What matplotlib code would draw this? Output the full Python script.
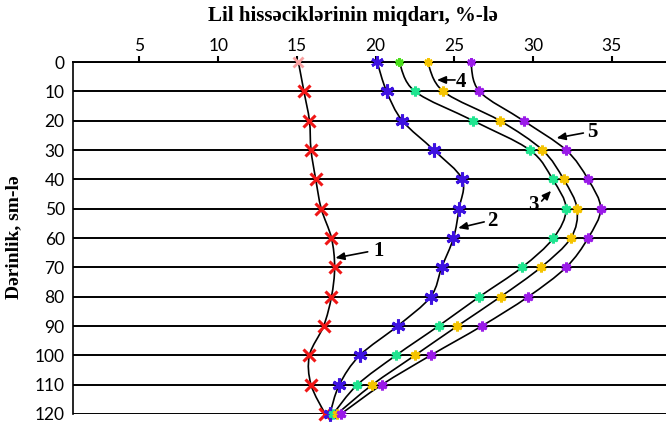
import numpy as np
import matplotlib
matplotlib.use("Agg")
import matplotlib.pyplot as plt
from matplotlib.path import Path
from matplotlib.patches import PathPatch

# depth, cm
depth = [0, 10, 20, 30, 40, 50, 60, 70, 80, 90, 100, 110, 120]

# clay particle content, % (curves 1..5)
clay_1 = [15.1, 15.45, 15.8, 15.9, 16.2, 16.55, 17.2, 17.4, 17.2, 16.7, 15.8, 15.9, 16.8]
clay_2 = [20.1, 20.7, 21.7, 23.7, 25.5, 25.3, 24.95, 24.2, 23.5, 21.4, 19.0, 17.7, 17.1]
clay_3 = [21.5, 22.5, 26.2, 29.8, 31.25, 32.1, 31.3, 29.3, 26.6, 24.0, 21.3, 18.85, 17.3]
clay_4 = [23.3, 24.3, 27.9, 30.6, 31.95, 32.8, 32.4, 30.5, 27.95, 25.2, 22.5, 19.8, 17.55]
clay_5 = [26.05, 26.6, 29.4, 32.1, 33.5, 34.3, 33.5, 32.1, 29.7, 26.75, 23.5, 20.4, 17.8]

series = [clay_1, clay_2, clay_3, clay_4, clay_5]
colors = ["#f01616", "#3d12e0", "#1fe590", "#f5c400", "#9a1be8"]
top_colors = ["#f7a0a0", "#3d12e0", "#4ade1a", "#f5c400", "#9a1be8"]
markers = ["x", (6, 2, 0), (6, 2, 0), (6, 2, 0), (6, 2, 0)]
msizes = [8, 10, 7, 7, 7]

# curve labels: label, text position, arrow start, arrow tip
labels = ["1", "2", "3", "4", "5"]
text_pos = [(20.2, 64.4), (27.4, 54.2), (30.0, 48.6), (25.45, 6.8), (33.75, 23.9)]
arrow_from = [(19.5, 64.7), (26.9, 54.5), (30.55, 47.4), (25.05, 6.1), (33.2, 24.2)]
arrow_to = [(17.45, 66.8), (25.25, 56.6), (31.15, 43.9), (23.9, 6.1), (31.5, 25.9)]

yticks = list(range(0, 121, 10))
xticks = [5, 10, 15, 20, 25, 30, 35]


def smooth_path(xs, ys):
    # catmull-rom through the points, drawn as cubic bezier segments
    pts = np.column_stack([xs, ys]).astype(float)
    ext = np.vstack([pts[0], pts, pts[-1]])
    verts = [pts[0]]
    codes = [Path.MOVETO]
    for i in range(1, len(ext) - 2):
        p0, p1, p2, p3 = ext[i - 1], ext[i], ext[i + 1], ext[i + 2]
        verts += [p1 + (p2 - p0) / 6, p2 - (p3 - p1) / 6, p2]
        codes += [Path.CURVE4] * 3
    return Path(verts, codes)


fig = plt.figure(figsize=(6.66, 4.24), dpi=100)
ax = fig.add_axes([0.1096, 0.0236, 0.8904, 0.830])

for yv in yticks:
    ax.axhline(yv, color="black", lw=1.4, zorder=1)

for vals, c, tc, m, ms in zip(series, colors, top_colors, markers, msizes):
    ax.add_patch(PathPatch(smooth_path(vals, depth), fill=False, edgecolor="black",
                           lw=1.2, zorder=2))
    ax.plot(vals[1:], depth[1:], linestyle="none", marker=m, markersize=ms, color=c,
            markeredgewidth=2.2, zorder=3, clip_on=False)
    ax.plot(vals[:1], depth[:1], linestyle="none", marker=m, markersize=ms - 1, color=tc,
            markeredgewidth=2.0, zorder=3, clip_on=False)

for lab, tp, a0, a1 in zip(labels, text_pos, arrow_from, arrow_to):
    ax.text(tp[0], tp[1], lab, fontsize=15, fontweight="bold", family="Liberation Serif",
            ha="center", va="center")
    ax.annotate("", xy=a1, xytext=a0,
                arrowprops=dict(arrowstyle="-|>,head_length=0.35,head_width=0.15",
                                color="black", lw=1.2, shrinkA=0, shrinkB=0,
                                mutation_scale=15))

ax.set_xlim(0.78, 38.45)
ax.set_ylim(120, 0)

ax.xaxis.tick_top()
ax.set_xticks(xticks)
ax.set_yticks(yticks)
ax.tick_params(axis="x", length=4, width=1.5, pad=2, labelsize=12.5)
ax.tick_params(axis="y", length=0, pad=6, labelsize=12.5)
for t in ax.get_xticklabels() + ax.get_yticklabels():
    t.set_family("Lato")

for side in ["right", "bottom"]:
    ax.spines[side].set_visible(False)
ax.spines["left"].set_linewidth(1.2)
ax.spines["top"].set_linewidth(1.4)

fig.text(0.53, 0.962, "Lil hissəciklərinin miqdarı, %-lə", ha="center", va="center",
         fontsize=15, fontweight="bold", family="Liberation Serif")
fig.text(0.021, 0.44, "Dərinlik, sm-lə", ha="center", va="center", rotation=90,
         fontsize=14, fontweight="bold", family="Liberation Serif")

fig.savefig("out.png", dpi=100)
